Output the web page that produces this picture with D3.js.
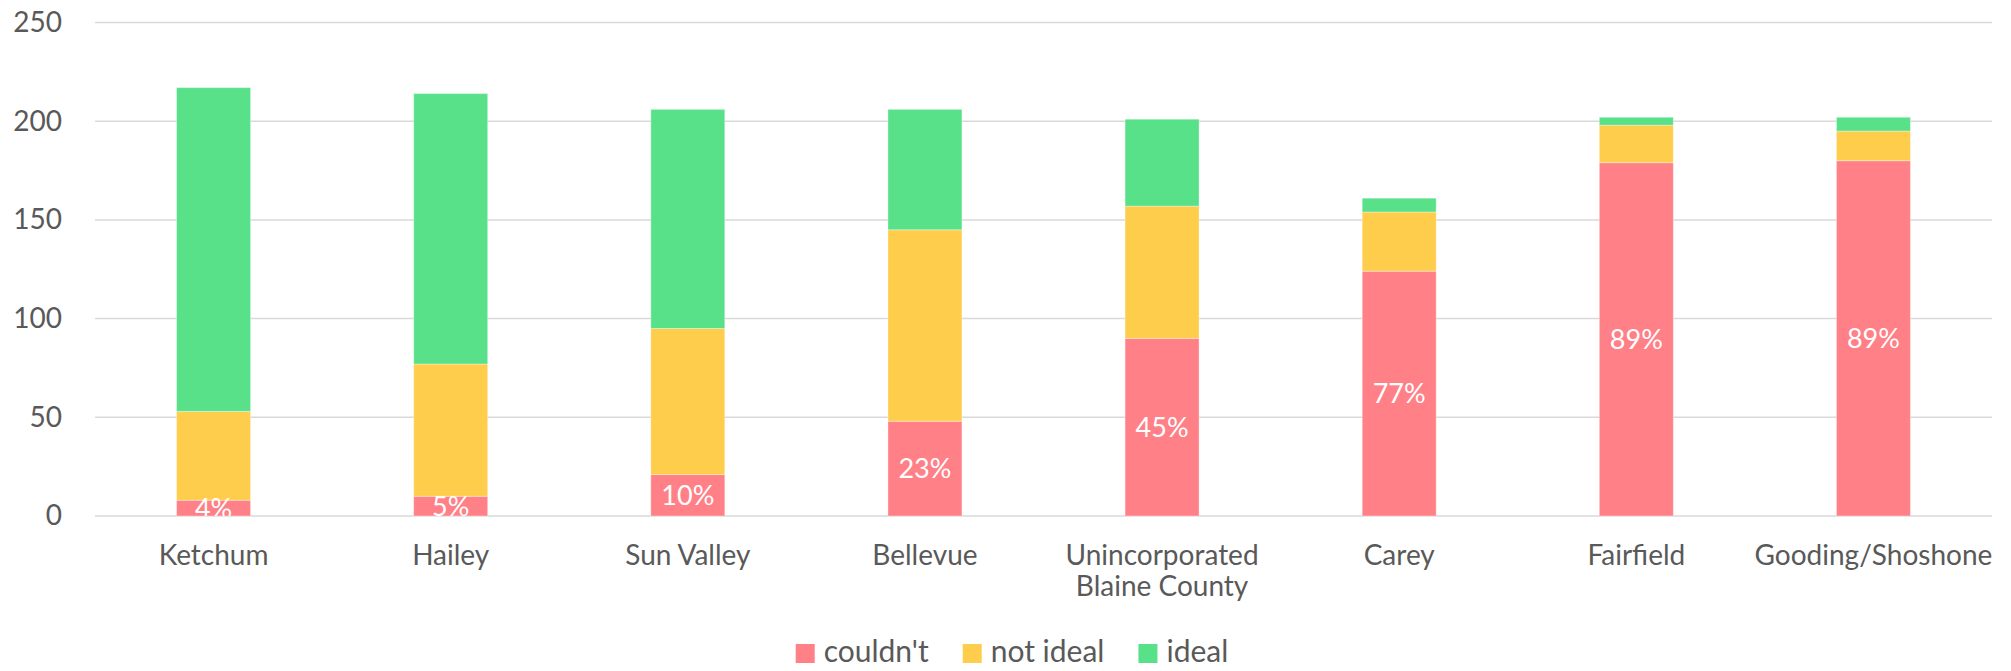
<!DOCTYPE html>
<html>
<head>
<meta charset="utf-8">
<script src="https://cdn.jsdelivr.net/npm/d3@7"></script>
<style>
  html, body { margin: 0; padding: 0; background: #fff; }
  svg { display: block; font-family: Lato, "Open Sans", sans-serif; }
</style>
</head>
<body>
<svg id="chart"></svg>
<script>
// data
const categories = ['Ketchum', 'Hailey', 'Sun Valley', 'Bellevue', 'Unincorporated\nBlaine County', 'Carey', 'Fairfield', 'Gooding/Shoshone'];
const couldnt = [8, 10, 21, 48, 90, 124, 179, 180];
const notIdeal = [45, 67, 74, 97, 67, 30, 19, 15];
const ideal = [164, 137, 111, 61, 44, 7, 4, 7];
const seriesNames = ["couldn't", 'not ideal', 'ideal'];
const yTicks = [0, 50, 100, 150, 200, 250];

const colors = ['#FF8087', '#FFCD4C', '#58E189'];

const width = 2011;
const height = 671;

const rows = categories.map((c, i) => ({
  category: c,
  [seriesNames[0]]: couldnt[i],
  [seriesNames[1]]: notIdeal[i],
  [seriesNames[2]]: ideal[i]
}));

const svg = d3.select('#chart')
  .attr('width', width)
  .attr('height', height);

// scales
const x = d3.scaleBand()
  .domain(categories)
  .range([95, 1992])
  .paddingInner(0.688)
  .paddingOuter(0.344);

const y = d3.scaleLinear()
  .domain([0, 250])
  .range([516, 22.5]);

const color = d3.scaleOrdinal().domain(seriesNames).range(colors);

// gridlines
svg.append('g')
  .selectAll('line')
  .data(yTicks)
  .join('line')
  .attr('x1', 95)
  .attr('x2', 1992)
  .attr('y1', d => y(d))
  .attr('y2', d => y(d))
  .attr('stroke', '#D9D9D9')
  .attr('stroke-width', 1.5);

// y axis labels
const yAxis = svg.append('g')
  .attr('transform', 'translate(62,0)')
  .call(d3.axisLeft(y).tickValues(yTicks).tickSize(0).tickPadding(0));
yAxis.select('.domain').remove();
yAxis.selectAll('text')
  .attr('fill', '#595959')
  .style('font-size', '28px')
  .style('font-family', 'Lato, sans-serif');

// stacked bars
const stacked = d3.stack().keys(seriesNames)(rows);

svg.append('g')
  .selectAll('g')
  .data(stacked)
  .join('g')
  .attr('fill', d => color(d.key))
  .selectAll('rect')
  .data(d => d)
  .join('rect')
  .attr('x', d => x(d.data.category))
  .attr('width', x.bandwidth())
  .attr('y', d => y(d[1]))
  .attr('height', d => y(d[0]) - y(d[1]))
  .attr('stroke', 'rgba(255,255,255,0.35)')
  .attr('stroke-width', 1);

// percentage labels in the red segment, clipped to plot area
svg.append('clipPath')
  .attr('id', 'plot-clip')
  .append('rect')
  .attr('x', 95)
  .attr('y', 0)
  .attr('width', 1897)
  .attr('height', y(0));

svg.append('g')
  .attr('clip-path', 'url(#plot-clip)')
  .selectAll('text')
  .data(stacked[0])
  .join('text')
  .attr('x', d => x(d.data.category) + x.bandwidth() / 2)
  .attr('y', d => (y(d[0]) + y(d[1])) / 2)
  .attr('dy', '0.36em')
  .attr('text-anchor', 'middle')
  .attr('fill', '#fff')
  .style('font-size', '27px')
  .text((d, i) => Math.round(couldnt[i] / (couldnt[i] + notIdeal[i] + ideal[i]) * 100) + '%');

// category labels
const xLabels = svg.append('g')
  .selectAll('text')
  .data(categories)
  .join('text')
  .attr('x', d => x(d) + x.bandwidth() / 2)
  .attr('y', 565)
  .attr('text-anchor', 'middle')
  .attr('fill', '#595959')
  .style('font-size', '28px');

xLabels.selectAll('tspan')
  .data(d => d.split('\n'))
  .join('tspan')
  .attr('x', function() { return d3.select(this.parentNode).attr('x'); })
  .attr('dy', (d, i) => i === 0 ? 0 : 31)
  .text(d => d);

// legend
const legend = svg.append('g');
let offset = 0;
seriesNames.forEach((name, i) => {
  const item = legend.append('g').attr('transform', `translate(${offset},0)`);
  item.append('rect')
    .attr('x', 0)
    .attr('y', 644)
    .attr('width', 19)
    .attr('height', 19)
    .attr('fill', colors[i]);
  const t = item.append('text')
    .attr('x', 28)
    .attr('y', 662)
    .attr('fill', '#595959')
    .style('font-size', '30px')
    .text(name);
  offset += 28 + t.node().getComputedTextLength() + 34;
});
const legendWidth = offset - 34;
legend.attr('transform', `translate(${1012 - legendWidth / 2},0)`);
</script>
</body>
</html>
